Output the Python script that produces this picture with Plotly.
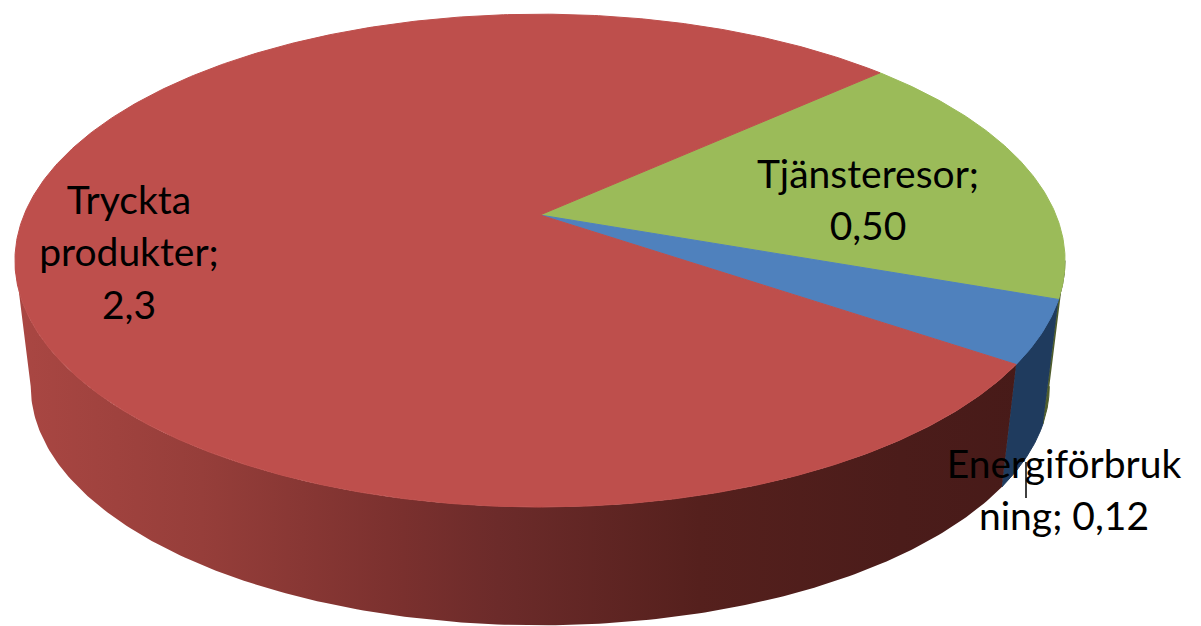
import numpy as np
import plotly.graph_objects as go

categories = ["Tjänsteresor", "Energiförbrukning", "Tryckta produkter"]
values = [0.50, 0.12, 2.3]
top_colors = ["#9BBB59", "#4F81BD", "#BE4F4C"]
wall_colors = ["#4E5C2C", "#1F3B5E", None]
label_lines = [["Tjänsteresor;", "0,50"], ["Energiförbruk", "ning; 0,12"], ["Tryckta", "produkter;", "2,3"]]
label_centers = [(868, 178), (1064, 468), (129, 204)]
wall_shade_pos = [0.0, 0.03, 0.19, 0.38, 0.47, 0.66, 0.85, 1.0]
wall_shade = ["#AC4844", "#A84642", "#963E3A", "#7A302E", "#6C2B2A", "#55201D", "#4B1C1A", "#461A18"]

START_DEG = 42.2
CX, CY, A, B, K = 540.0, 215.0, 516.0, 238.0, 0.185
DEPTH, SCALE = 127.0, 0.97
LINE_GAP = 52.5
FONT = "Lato"
FONT_SIZE = 39


def project(theta, lower=False):
    u, v = np.cos(theta), np.sin(theta)
    w = 1 + K * v
    s, dy = (SCALE, DEPTH) if lower else (1.0, 0.0)
    return CX + s * A * u / w, CY + dy - s * B * v / w


fractions = np.array(values) / sum(values)
edges = np.radians(START_DEG) - np.concatenate([[0], np.cumsum(fractions)]) * 2 * np.pi
# Only the front of the wall can be seen: it runs between the two outline extremes of the disc
front_hi = -np.arcsin(K)
front_lo = -np.pi + np.arcsin(K)

fig = go.Figure()

for i in range(len(values)):
    hi, lo = min(edges[i], front_hi), max(edges[i + 1], front_lo)
    if hi <= lo:
        continue
    ts = np.linspace(hi, lo, 200)
    xt, yt = project(ts)
    xb, yb = project(ts, True)
    style = dict(fillcolor=wall_colors[i], line=dict(color=wall_colors[i], width=1))
    if wall_colors[i] is None:
        style = dict(
            fillgradient=dict(type="horizontal", start=0, stop=1060,
                              colorscale=list(zip(wall_shade_pos, wall_shade))),
            line=dict(width=0))
    fig.add_trace(go.Scatter(x=np.r_[xt, xb[::-1]], y=np.r_[yt, yb[::-1]], mode="lines", fill="toself",
                             hoverinfo="skip", showlegend=False, **style))

for i, name in enumerate(categories):
    ts = np.linspace(edges[i], edges[i + 1], max(int(fractions[i] * 720), 16))
    xs, ys = project(ts)
    fig.add_trace(go.Scatter(
        x=np.r_[CX, xs, CX], y=np.r_[CY, ys, CY], mode="lines", fill="toself", name=name,
        fillcolor=top_colors[i], line=dict(color=top_colors[i], width=1), showlegend=False,
        hoverinfo="name"))

fig.add_trace(go.Scatter(x=[1026, 1026], y=[462, 498], mode="lines", line=dict(color="#000", width=1.5),
                         hoverinfo="skip", showlegend=False))

for lines, (lx, ly) in zip(label_lines, label_centers):
    fig.add_trace(go.Scatter(
        x=[lx] * len(lines), y=[ly + n * LINE_GAP for n in range(len(lines))], mode="text", text=lines,
        textposition="middle center", textfont=dict(family=FONT, size=FONT_SIZE, color="#000"),
        hoverinfo="skip", showlegend=False))

fig.update_layout(
    width=1201, height=626, margin=dict(l=0, r=0, t=0, b=0), paper_bgcolor="#fff", plot_bgcolor="#fff",
    xaxis=dict(range=[0, 1201], visible=False, fixedrange=True),
    yaxis=dict(range=[626, 0], visible=False, fixedrange=True),
)
fig.write_html("out.html", config={"displayModeBar": False},
               post_script="document.body.style.margin='0';document.documentElement.style.overflow='hidden';")
